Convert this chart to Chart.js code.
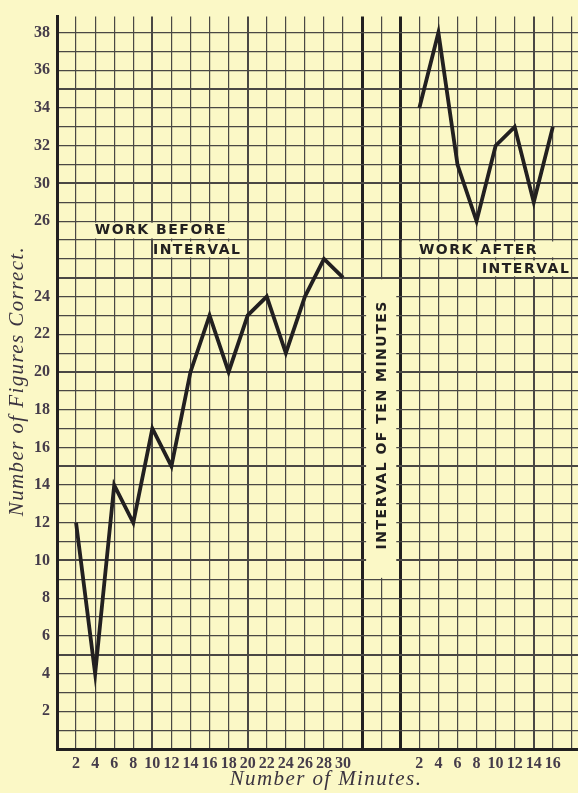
<!DOCTYPE html>
<html>
<head>
<meta charset="utf-8">
<script src="https://cdn.jsdelivr.net/npm/chart.js@4"></script>
<style>
  html, body { margin: 0; padding: 0; background: #fbf8c6; }
  #wrap { width: 578px; height: 793px; }
</style>
</head>
<body>
<div id="wrap"><canvas id="myChart" width="578" height="793"></canvas></div>
<script>
const ctx = document.getElementById('myChart');

// data
const minutesBefore = [2, 4, 6, 8, 10, 12, 14, 16, 18, 20, 22, 24, 26, 28, 30];
const scoresBefore = [12, 4, 14, 12, 17, 15, 20, 23, 20, 23, 24, 21, 24, 26, 25];
const minutesAfter = [2, 4, 6, 8, 10, 12, 14, 16];
const scoresAfter = [34, 38, 31, 28, 32, 33, 29, 33];

// y tick labels as printed (the original prints "26" on the 28 line)
const yTickValues = [2, 4, 6, 8, 10, 12, 14, 16, 18, 20, 22, 24, 28, 30, 32, 34, 36, 38];
const yTickText = ['2', '4', '6', '8', '10', '12', '14', '16', '18', '20', '22', '24', '26', '30', '32', '34', '36', '38'];

// x axis is counted in grid columns: 2 minutes per column, interval = 2 columns
const afterOffset = 18;
const intervalCols = [16, 18];

const bg = '#fbf8c6';
const ink = '#222020';
const gridInk = '#4a4844';

const ptsBefore = minutesBefore.map((m, i) => ({x: m / 2, y: scoresBefore[i]}));
const ptsAfter = minutesAfter.map((m, i) => ({x: afterOffset + m / 2, y: scoresAfter[i]}));

const paper = {
  id: 'paper',
  beforeDraw(chart) {
    const c = chart.ctx;
    c.save();
    c.fillStyle = bg;
    c.fillRect(0, 0, chart.width, chart.height);
    c.restore();
  },
  beforeDatasetsDraw(chart) {
    const c = chart.ctx;
    const xs = chart.scales.x, ys = chart.scales.y;
    const box = (c0, c1, v0, v1) => {
      const l = xs.getPixelForValue(c0) + 1.5, r = xs.getPixelForValue(c1) - 1.5;
      const t = ys.getPixelForValue(v1) + 1.5, b = ys.getPixelForValue(v0) - 1.5;
      c.fillStyle = bg;
      c.fillRect(l, t, r - l, b - t);
    };
    const label = (txt, cx, v, rot) => {
      c.save();
      c.translate(cx, ys.getPixelForValue(v));
      if (rot) c.rotate(-Math.PI / 2);
      c.font = 'bold 14px "DejaVu Sans"';
      c.letterSpacing = '1.5px';
      c.fillStyle = ink;
      c.textAlign = 'center';
      c.textBaseline = 'middle';
      c.fillText(txt, 0, 1);
      c.restore();
    };
    c.save();
    // work before interval
    box(1, 10, 27, 28);
    box(5, 10, 26, 27);
    label('WORK BEFORE', xs.getPixelForValue(5.45), 27.55);
    label('INTERVAL', xs.getPixelForValue(7.35), 26.5);
    // work after interval
    box(18, 27, 26, 27);
    box(22, 27, 25, 26);
    label('WORK AFTER', xs.getPixelForValue(22.1), 26.5);
    label('INTERVAL', xs.getPixelForValue(24.6), 25.5);
    // interval strip
    const l = xs.getPixelForValue(16) + 4, r = xs.getPixelForValue(18) - 4;
    c.fillStyle = bg;
    c.fillRect(l, ys.getPixelForValue(25) + 1.5, r - l, ys.getPixelForValue(9) - ys.getPixelForValue(25) - 3);
    label('INTERVAL OF TEN MINUTES', xs.getPixelForValue(17), 17.2, true);
    c.restore();
  },
  afterDraw(chart) {
    const c = chart.ctx;
    c.save();
    c.font = 'italic 21px "Liberation Serif"';
    c.letterSpacing = '1.4px';
    c.fillStyle = '#3b3440';
    c.textAlign = 'center';
    c.textBaseline = 'middle';
    c.fillText('Number of Minutes.', 326, 779);
    c.translate(17, 381);
    c.rotate(-Math.PI / 2);
    c.fillText('Number of Figures Correct.', 0, 0);
    c.restore();
  }
};

const chart01 = new Chart(ctx, {
  type: 'line',
  data: {
    datasets: [
      {data: ptsBefore, borderColor: ink, borderWidth: 3.8, pointRadius: 0, tension: 0, fill: false},
      {data: ptsAfter, borderColor: ink, borderWidth: 3.8, pointRadius: 0, tension: 0, fill: false}
    ]
  },
  options: {
    responsive: false,
    animation: false,
    layout: {padding: {top: 7, right: 0, left: 0, bottom: 0}},
    plugins: {legend: {display: false}, tooltip: {enabled: false}},
    scales: {
      x: {
        type: 'linear',
        min: 0,
        max: 27.32,
        afterFit: s => { s.height = 44; },
        border: {color: ink, width: 3},
        grid: {
          drawTicks: false,
          color: c => intervalCols.includes(c.tick.value) ? ink : gridInk,
          lineWidth: c => {
            const v = c.tick.value;
            if (intervalCols.includes(v)) return 3;
            if (v === 5 || v === 10 || v === 25) return 2;
            return 1.2;
          }
        },
        ticks: {
          stepSize: 1,
          autoSkip: false,
          includeBounds: false,
          maxTicksLimit: 100,
          maxRotation: 0,
          padding: 5,
          color: '#453c4a',
          font: {family: 'Liberation Serif', size: 16, weight: 'bold'},
          callback: v => {
            if (v >= 1 && v <= 15) return String(v * 2);
            if (v >= afterOffset + 1 && v <= afterOffset + 8) return String((v - afterOffset) * 2);
            return '';
          }
        }
      },
      y: {
        min: 0,
        max: 38.85,
        afterFit: s => { s.width = 57; },
        border: {color: ink, width: 3},
        grid: {
          drawTicks: false,
          color: gridInk,
          lineWidth: c => (c.tick.value % 5 === 0 ? 2 : 1.2)
        },
        ticks: {
          stepSize: 1,
          autoSkip: false,
          includeBounds: false,
          maxTicksLimit: 100,
          padding: 7,
          color: '#453c4a',
          font: {family: 'Liberation Serif', size: 16, weight: 'bold'},
          callback: v => {
            const i = yTickValues.indexOf(v);
            return i >= 0 ? yTickText[i] : '';
          }
        }
      }
    }
  },
  plugins: [paper]
});
</script>
</body>
</html>
